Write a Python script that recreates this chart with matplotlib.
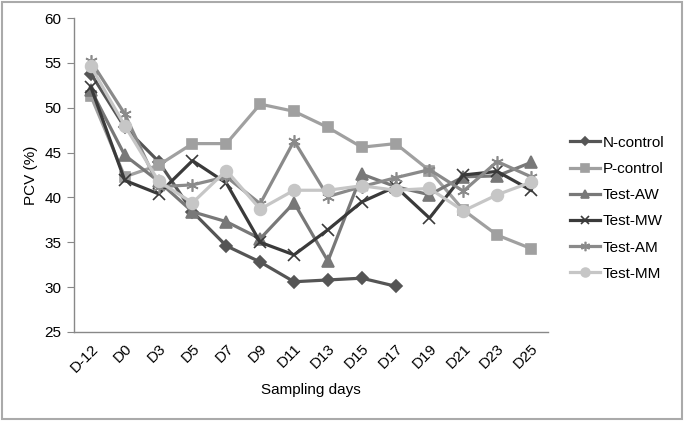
import matplotlib.pyplot as plt
from matplotlib.patches import Rectangle

plt.rcParams["font.family"] = ["Liberation Sans", "DejaVu Sans"]

days = ["D-12", "D0", "D3", "D5", "D7", "D9", "D11", "D13", "D15", "D17",
        "D19", "D21", "D23", "D25"]

n_control = [53.8, 47.8, 44.0, 38.4, 34.6, 32.8, 30.6, 30.8, 31.0, 30.1]
p_control = [51.3, 42.3, 43.6, 46.0, 46.0, 50.4, 49.6, 47.8, 45.6, 46.0,
             43.0, 38.6, 35.8, 34.3]
test_aw = [52.0, 44.7, 41.8, 38.4, 37.3, 35.4, 39.4, 32.9, 42.6, 41.2,
           40.3, 42.3, 42.4, 43.9]
test_mw = [52.3, 41.9, 40.4, 44.1, 41.6, 35.0, 33.6, 36.4, 39.5, 41.2,
           37.7, 42.5, 42.9, 40.8]
test_am = [55.2, 49.3, 41.2, 41.4, 42.3, 39.3, 46.3, 40.1, 41.2, 42.2,
           43.1, 40.7, 44.0, 42.3]
test_mm = [54.6, 48.0, 41.8, 39.4, 43.0, 38.7, 40.8, 40.8, 41.3, 40.8,
           41.0, 38.5, 40.3, 41.7]

series = [
    ("N-control", n_control, "#555555", "D", 6),
    ("P-control", p_control, "#a0a0a0", "s", 7.5),
    ("Test-AW", test_aw, "#787878", "^", 8),
    ("Test-MW", test_mw, "#3a3a3a", "x", 8),
    ("Test-AM", test_am, "#8a8a8a", (6, 2, 0), 9),
    ("Test-MM", test_mm, "#c6c6c6", "o", 8.5),
]

fig = plt.figure(figsize=(6.85, 4.22), dpi=100)
ax = fig.add_axes([0.108, 0.2133, 0.692, 0.744])

for name, vals, col, mk, ms in series:
    ax.plot(range(len(vals)), vals, color=col, lw=2.3, marker=mk,
            markersize=ms, markeredgecolor=col, markerfacecolor=col,
            markeredgewidth=1.2, label=name)

ax.set_xlim(-0.5, len(days) - 0.5)
ax.set_ylim(25, 60)
ax.set_xticks(range(len(days)))
ax.set_xticklabels(days, rotation=45, ha="right", rotation_mode="anchor",
                   fontsize=11)
ax.set_yticks(range(25, 61, 5))
ax.tick_params(axis="y", labelsize=11, length=5, color="#888888", pad=4)
ax.tick_params(axis="x", length=0, pad=7)
for s in ["top", "right"]:
    ax.spines[s].set_visible(False)
for s in ["left", "bottom"]:
    ax.spines[s].set_color("#888888")
    ax.spines[s].set_linewidth(1.0)

ax.set_ylabel("PCV (%)", fontsize=11, labelpad=5)
ax.set_xlabel("Sampling days", fontsize=11, labelpad=6)

# legend placed in figure coords, to the right of the plot
leg = fig.legend(loc="upper left", bbox_to_anchor=(0.823, 0.693),
                 bbox_transform=fig.transFigure, borderaxespad=0,
                 frameon=False, fontsize=11, handlelength=2.0,
                 handletextpad=0.13, labelspacing=0.8, markerscale=0.75)

fig.patches.append(Rectangle((0.0025, 0.007), 0.993, 0.988,
                             transform=fig.transFigure, fill=False,
                             edgecolor="#aaaaaa", lw=1.5))

fig.savefig("out.png", dpi=100)
